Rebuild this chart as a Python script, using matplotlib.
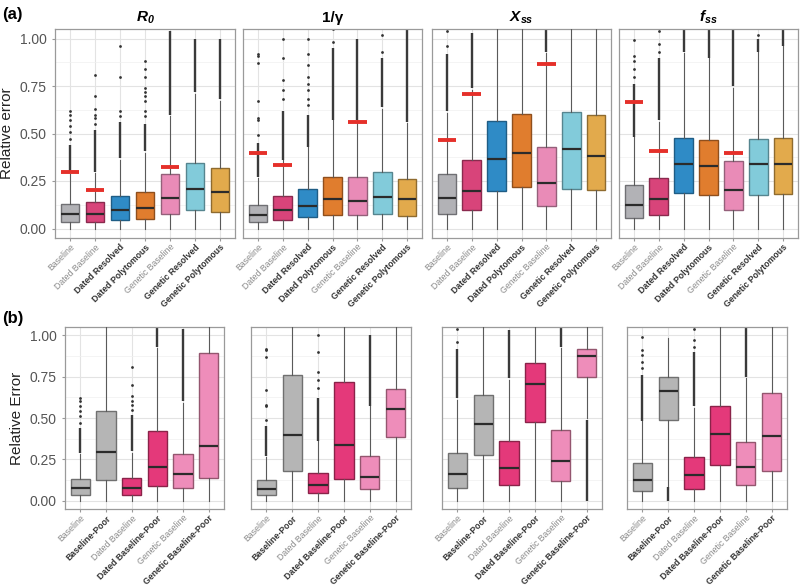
import matplotlib
matplotlib.use('Agg')
import matplotlib.pyplot as plt

plt.rcParams['font.family'] = ['Liberation Sans', 'DejaVu Sans']
plt.rcParams['mathtext.fontset'] = 'custom'
plt.rcParams['mathtext.rm'] = 'Liberation Sans'
plt.rcParams['mathtext.it'] = 'Liberation Sans:italic'
plt.rcParams['mathtext.bf'] = 'Liberation Sans:bold'
plt.rcParams['mathtext.bfit'] = 'Liberation Sans:italic:bold'

# ── Data ───────────────────────────────────────────────────────────────────
PARAM_TITLES = [r'$\mathbfit{R}_\mathbfit{0}$', '1/γ',
                r'$\mathbfit{X}_\mathbfit{ss}$', r'$\mathbfit{f}_\mathbfit{ss}$']

METHODS = ['Baseline', 'Dated Baseline', 'Dated Resolved', 'Dated Polytomous',
           'Genetic Baseline', 'Genetic Resolved', 'Genetic Polytomous']
POOR_METHODS = ['Baseline-Poor', 'Dated Baseline-Poor', 'Genetic Baseline-Poor']

# rows: R0, 1/gamma, Xss, fss
MED = [[0.075, 0.075, 0.095, 0.11, 0.16, 0.21, 0.19],
       [0.07, 0.095, 0.12, 0.155, 0.145, 0.165, 0.153],
       [0.16, 0.20, 0.368, 0.40, 0.242, 0.419, 0.379],
       [0.125, 0.153, 0.338, 0.33, 0.202, 0.337, 0.337]]
Q1 = [[0.035, 0.035, 0.045, 0.05, 0.075, 0.10, 0.085],
      [0.035, 0.045, 0.06, 0.07, 0.07, 0.075, 0.068],
      [0.077, 0.097, 0.196, 0.216, 0.119, 0.209, 0.205],
      [0.056, 0.07, 0.186, 0.174, 0.098, 0.177, 0.18]]
Q3 = [[0.13, 0.14, 0.17, 0.19, 0.285, 0.345, 0.32],
      [0.125, 0.17, 0.21, 0.27, 0.27, 0.30, 0.263],
      [0.288, 0.358, 0.567, 0.603, 0.43, 0.614, 0.60],
      [0.23, 0.267, 0.477, 0.467, 0.356, 0.472, 0.475]]
WHI = [[0.285, 0.29, 0.36, 0.40, 0.59, 0.71, 0.67],
       [0.265, 0.36, 0.43, 0.57, 0.57, 0.63, 0.555],
       [0.61, 0.73, 1.1, 1.1, 0.925, 1.1, 1.1],
       [0.48, 0.56, 0.925, 0.90, 0.74, 0.93, 0.96]]
WLO = [[0.0] * 7, [0.0] * 7, [0.0] * 7, [0.0] * 7]
# dense runs of outliers (they merge into a line)
DENSE = [[(0.29, 0.44), (0.30, 0.52), (0.37, 0.56), (0.41, 0.55), (0.60, 1.04), (0.72, 1.0), (0.68, 1.0)],
         [(0.27, 0.45), (0.36, 0.62), (0.43, 0.60), (0.57, 0.95), (0.57, 1.0), (0.64, 0.90), (0.56, 1.05)],
         [(0.62, 0.92), (0.74, 1.03), None, None, (0.93, 1.05), None, None],
         [(0.48, 0.76), (0.57, 0.90), (0.93, 1.05), (0.90, 1.05), (0.75, 1.05), (0.93, 1.0), (0.96, 1.05)]]
SPARSE = [[[0.47, 0.51, 0.54, 0.57, 0.60, 0.62], [0.55, 0.58, 0.60, 0.63, 0.70, 0.81],
           [0.59, 0.62, 0.80, 0.96], [0.59, 0.62, 0.67, 0.70, 0.72, 0.74, 0.80, 0.84, 0.88], [], [], []],
          [[0.49, 0.57, 0.58, 0.67, 0.87, 0.91, 0.92], [0.68, 0.73, 0.78, 0.90, 1.0],
           [0.65, 0.68, 0.73, 0.76, 0.80, 0.86, 0.92, 1.0], [0.98, 1.05], [], [0.93, 1.02], []],
          [[0.96, 1.04], [], [], [], [], [], []],
          [[0.80, 0.84, 0.88, 0.91, 0.99], [0.93, 0.97, 1.04], [], [], [], [1.02], []]]
RED = [[0.30, 0.205, None, None, 0.325, None, None],
       [0.40, 0.335, None, None, 0.56, None, None],
       [0.465, 0.71, None, None, 0.868, None, None],
       [0.665, 0.41, None, None, 0.40, None, None]]

POOR_MED = [[0.297, 0.205, 0.33], [0.396, 0.335, 0.552], [0.462, 0.707, 0.875], [0.665, 0.402, 0.393]]
POOR_Q1 = [[0.125, 0.086, 0.137], [0.177, 0.13, 0.385], [0.275, 0.474, 0.747], [0.486, 0.215, 0.179]]
POOR_Q3 = [[0.544, 0.424, 0.895], [0.761, 0.717, 0.677], [0.637, 0.833, 0.918], [0.749, 0.574, 0.65]]
POOR_WHI = [[1.1, 0.924, 1.1], [1.1, 1.1, 1.1], [1.1, 1.1, 1.1], [0.984, 1.1, 1.1]]
POOR_WLO = [[0.0, 0.0, 0.0], [0.0, 0.0, 0.0], [0.0, 0.0, 0.50], [0.09, 0.0, 0.0]]
POOR_DENSE = [[None, (0.93, 1.05), None], [None, None, None],
              [None, None, (0.0, 0.49)], [(0.0, 0.085), None, None]]

TOP_FILL = ['#B2B2B6', '#D8447A', '#2F8BC6', '#E07D2E', '#E98BB7', '#82CBDA', '#E2AA4C']
TOP_EDGE = ['#707074', '#8A2A4E', '#1F5D85', '#8F4F1D', '#94607A', '#56858F', '#8F6B2F']
BOT_FILL = ['#B5B5B5', '#E4397A', '#EE8DBA']
BOT_EDGE = ['#707070', '#8A2349', '#94566F']
BASE_IDX = {'Baseline', 'Dated Baseline', 'Genetic Baseline'}


def draw_panel(ax, stats, fills, edges, labels, reds=None):
    n = len(stats)
    pos = list(range(1, n + 1))
    bxp = ax.bxp(stats, positions=pos, widths=0.75, showcaps=False,
                 showfliers=False, patch_artist=True, zorder=3,
                 whiskerprops=dict(color='#5a5a5a', lw=0.8),
                 medianprops=dict(color='#2b2b2b', lw=1.6))
    for patch, fc, ec in zip(bxp['boxes'], fills, edges):
        patch.set_facecolor(fc)
        patch.set_edgecolor(ec)
        patch.set_linewidth(1.0)
    for p, s in zip(pos, stats):
        if s['dense'] is not None:
            ax.vlines(p, s['dense'][0], s['dense'][1], color='#3a3a3a',
                      lw=1.7, zorder=2)
        if s['sparse']:
            ax.scatter([p] * len(s['sparse']), s['sparse'], s=4,
                       color='#333333', zorder=2, linewidths=0)
    if reds is not None:
        for p, r in zip(pos, reds):
            if r is not None:
                ax.hlines(r, p - 0.375, p + 0.375, color='#E5302A', lw=2.8, zorder=4)
    ax.set_xlim(0.4, n + 0.6)
    ax.set_ylim(-0.05, 1.05)
    ax.set_yticks([0, 0.25, 0.5, 0.75, 1.0])
    ax.set_yticks([0.125, 0.375, 0.625, 0.875], minor=True)
    ax.grid(True, which='major', color='#E3E3E3', lw=0.8, zorder=0)
    ax.grid(True, which='minor', axis='y', color='#F0F0F0', lw=0.5, zorder=0)
    ax.set_axisbelow(True)
    ax.tick_params(axis='both', which='major', length=2.5, color='#999999',
                   labelcolor='#555555', labelsize=10)
    ax.tick_params(axis='x', pad=0.8)
    ax.tick_params(axis='y', which='minor', length=0)
    ax.set_xticks(pos)
    ax.set_xticklabels(labels, rotation=45, ha='right', rotation_mode='anchor', fontsize=6.3)
    for t, lab in zip(ax.get_xticklabels(), labels):
        if lab in BASE_IDX:
            t.set_color('#8a8a8a')
        else:
            t.set_color('#333333')
            t.set_fontweight('bold')
    for sp in ax.spines.values():
        sp.set_color('#9a9a9a')
        sp.set_linewidth(0.9)


def make_stat(med, q1, q3, wlo, whi, dense, sparse):
    return dict(med=med, q1=q1, q3=q3, whislo=wlo, whishi=whi,
                dense=dense, sparse=sparse)


fig = plt.figure(figsize=(8.0, 5.87), dpi=100)
W, H = 800, 587

top_x = [(55, 235), (243, 422), (432, 611), (619, 798)]
bot_x = [(65, 224), (251, 411), (442, 602), (627, 787)]

for k in range(4):
    x0, x1 = top_x[k]
    ax = fig.add_axes([x0 / W, 1 - 238 / H, (x1 - x0) / W, 209 / H])
    stats = [make_stat(MED[k][i], Q1[k][i], Q3[k][i], WLO[k][i], WHI[k][i],
                       DENSE[k][i], SPARSE[k][i]) for i in range(7)]
    draw_panel(ax, stats, TOP_FILL, TOP_EDGE, METHODS, RED[k])
    ax.set_title(PARAM_TITLES[k], fontsize=11, fontweight='bold', pad=5)
    if k == 0:
        ax.set_ylabel('Relative error', fontsize=11, color='#222222')
    else:
        ax.tick_params(axis='y', labelleft=False, length=0)

    x0, x1 = bot_x[k]
    ax = fig.add_axes([x0 / W, 1 - 509 / H, (x1 - x0) / W, 182 / H])
    stats, labels = [], []
    for j, base in enumerate([0, 1, 4]):
        stats.append(make_stat(MED[k][base], Q1[k][base], Q3[k][base], WLO[k][base],
                               WHI[k][base], DENSE[k][base], SPARSE[k][base]))
        labels.append(METHODS[base])
        stats.append(make_stat(POOR_MED[k][j], POOR_Q1[k][j], POOR_Q3[k][j],
                               POOR_WLO[k][j], POOR_WHI[k][j], POOR_DENSE[k][j], []))
        labels.append(POOR_METHODS[j])
    fills = [BOT_FILL[0], BOT_FILL[0], BOT_FILL[1], BOT_FILL[1], BOT_FILL[2], BOT_FILL[2]]
    edges = [BOT_EDGE[0], BOT_EDGE[0], BOT_EDGE[1], BOT_EDGE[1], BOT_EDGE[2], BOT_EDGE[2]]
    draw_panel(ax, stats, fills, edges, labels)
    if k == 0:
        ax.set_ylabel('Relative Error', fontsize=11, color='#222222')
    else:
        ax.tick_params(axis='y', labelleft=False, length=0)

fig.text(2 / W, 1 - 14 / H, '(a)', fontsize=12, fontweight='bold', va='center')
fig.text(2 / W, 1 - 318 / H, '(b)', fontsize=12, fontweight='bold', va='center')

fig.savefig('out.png', dpi=100, facecolor='white')
